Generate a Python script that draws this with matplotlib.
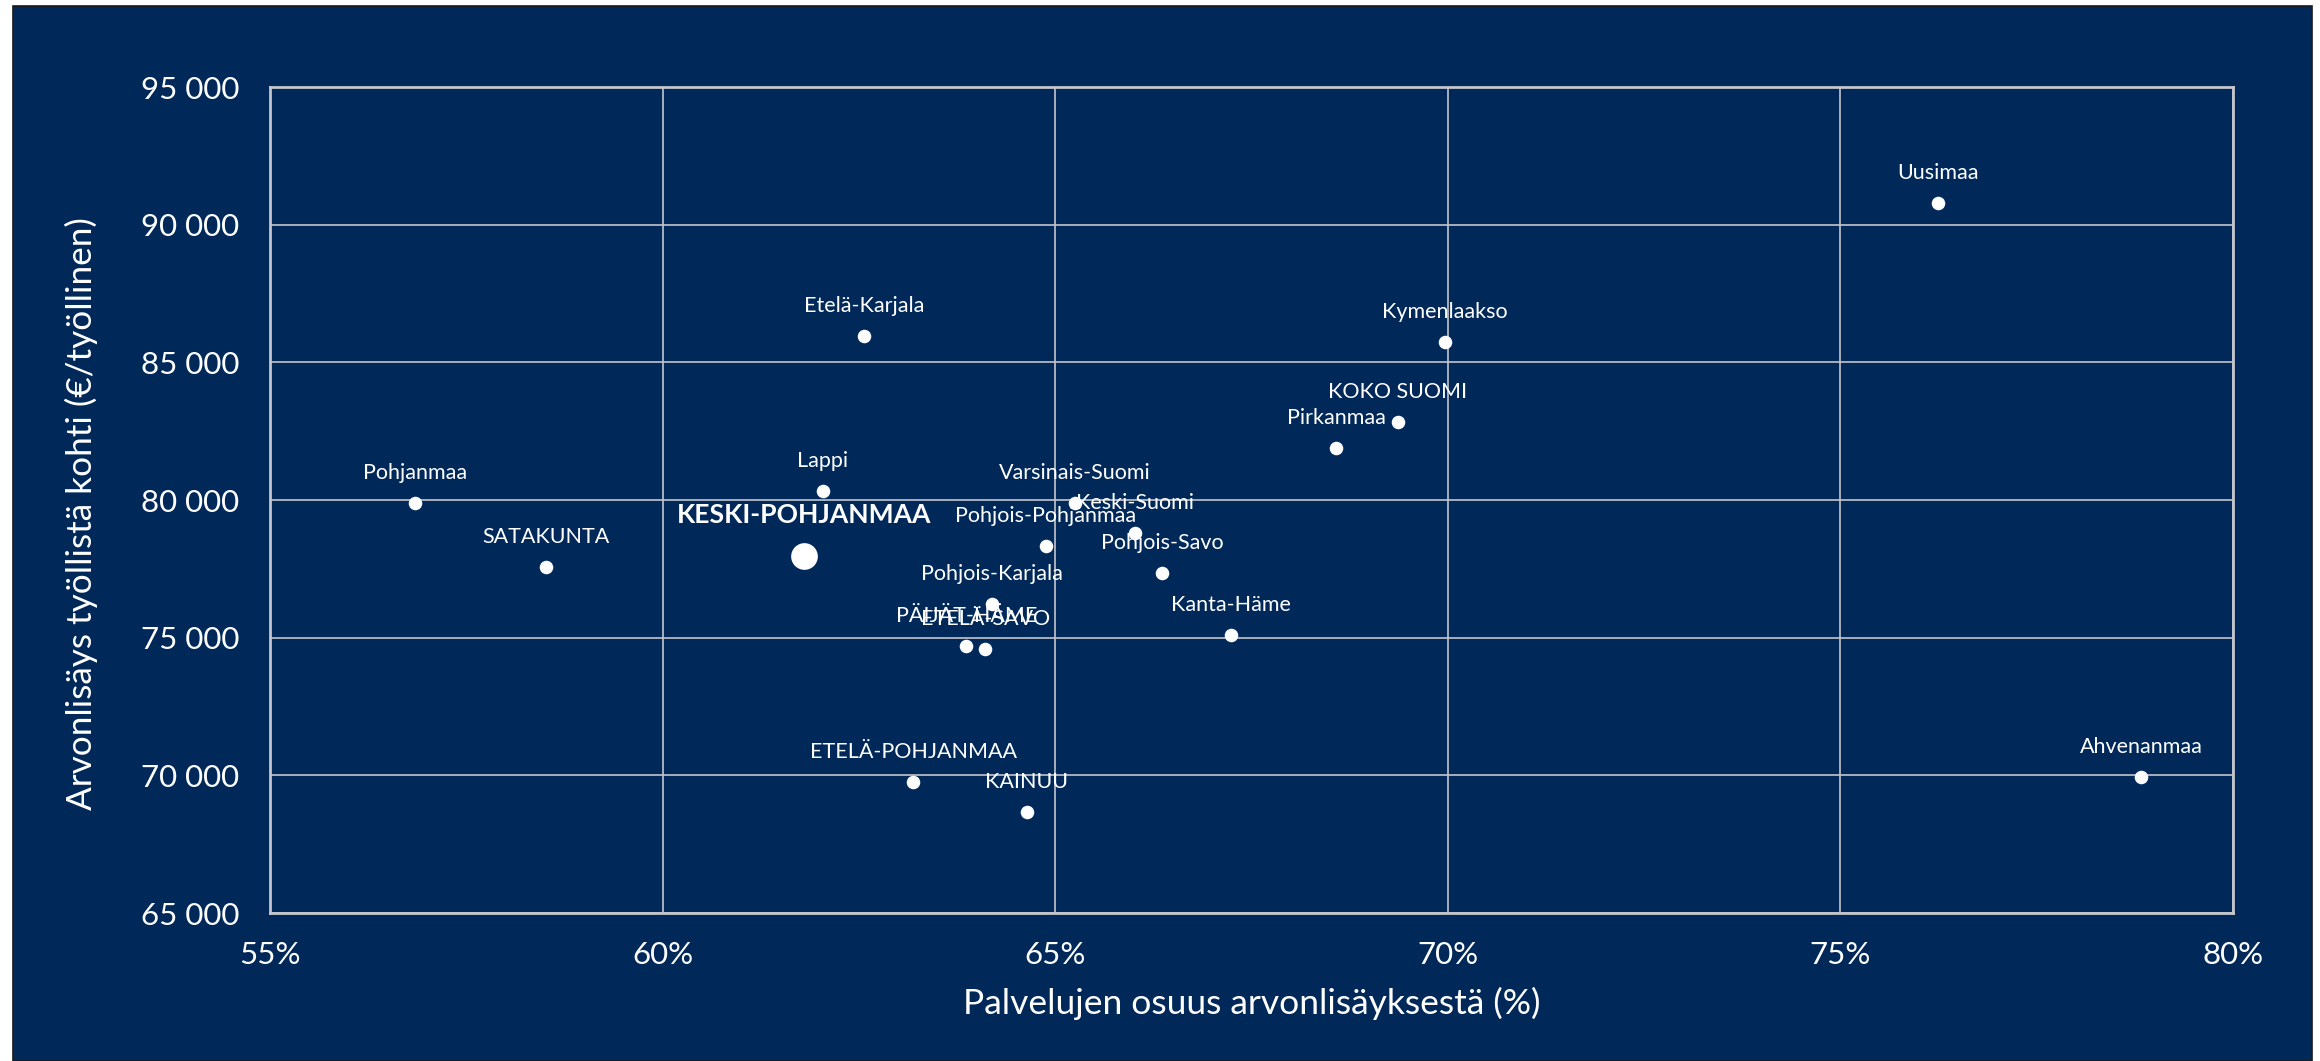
import matplotlib
matplotlib.use("Agg")
import matplotlib.pyplot as plt
from matplotlib.patches import Rectangle
from matplotlib.ticker import FuncFormatter

plt.rcParams['font.family'] = ['Lato', 'DejaVu Sans']

regions = ["Uusimaa", "Kymenlaakso", "KOKO SUOMI", "Pirkanmaa", "Etelä-Karjala",
           "Lappi", "Pohjanmaa", "SATAKUNTA", "Varsinais-Suomi", "Keski-Suomi",
           "Pohjois-Pohjanmaa", "Pohjois-Savo", "Pohjois-Karjala", "PÄIJÄT-HÄME",
           "ETELÄ-SAVO", "Kanta-Häme", "ETELÄ-POHJANMAA", "KAINUU", "Ahvenanmaa"]
service_share = [76.24, 69.96, 69.36, 68.58, 62.57,
                 62.04, 56.85, 58.52, 65.25, 66.02,
                 64.88, 66.36, 64.19, 63.87,
                 64.11, 67.24, 63.19, 64.64, 78.83]
value_added = [90780, 85750, 82850, 81880, 85970,
               80330, 79880, 77580, 79880, 78790,
               78340, 77340, 76220, 74710,
               74590, 75100, 69770, 68680, 69950]

highlight_name = "KESKI-POHJANMAA"
highlight_x = 61.80
highlight_y = 77980

xticks = [55, 60, 65, 70, 75, 80]
yticks = [65000, 70000, 75000, 80000, 85000, 90000, 95000]

BG = "#00295a"
GRID = "#c4c6cc"

fig = plt.figure(figsize=(23.2, 10.61), dpi=100)
fig.patch.set_facecolor("white")
bg = Rectangle((13/2320, 0), (2312-13)/2320, 1 - 6/1061,
               transform=fig.transFigure, facecolor=BG,
               edgecolor="#1a1a1a", linewidth=1.2, zorder=-10)
fig.patches.append(bg)

ax = fig.add_axes([270/2320, 1 - 913/1061, (2233-270)/2320, (913-87)/1061])
ax.set_zorder(1)
ax.set_facecolor(BG)
ax.set_xlim(55, 80)
ax.set_ylim(65000, 95000)
ax.set_xticks(xticks)
ax.set_yticks(yticks)
ax.xaxis.set_major_formatter(FuncFormatter(lambda v, p: f"{v:.0f}%"))
ax.yaxis.set_major_formatter(FuncFormatter(lambda v, p: f"{v:,.0f}".replace(",", " ")))
ax.grid(True, color=GRID, linewidth=1.2)
ax.set_axisbelow(True)
for s in ax.spines.values():
    s.set_color(GRID)
    s.set_linewidth(2)
ax.tick_params(axis='both', length=0, labelsize=22.5, colors="white")
ax.tick_params(axis='x', pad=20)
ax.tick_params(axis='y', pad=22)

ax.scatter(service_share, value_added, s=95, color="white", zorder=3, linewidths=0)
for name, x, y in zip(regions, service_share, value_added):
    ax.annotate(name, (x, y), xytext=(0, 21.5), textcoords="offset points",
                ha="center", va="center", color="white", fontsize=15.5, zorder=4)

ax.scatter([highlight_x], [highlight_y], s=370, color="white", zorder=3, linewidths=0)
ax.annotate(highlight_name, (highlight_x, highlight_y), xytext=(0, 29),
            textcoords="offset points", ha="center", va="center", color="white",
            fontsize=19.1, fontweight="bold", zorder=4)

fig.text(1252/2320, 1 - 1003/1061, "Palvelujen osuus arvonlisäyksestä (%)",
         ha="center", va="center", color="white", fontsize=25.5, zorder=5)
fig.text(81/2320, 1 - 514/1061, "Arvonlisäys työllistä kohti (€/työllinen)",
         ha="center", va="center", color="white", fontsize=25.3, rotation=90, zorder=5)

fig.savefig("out.png", dpi=100, facecolor=fig.get_facecolor())
